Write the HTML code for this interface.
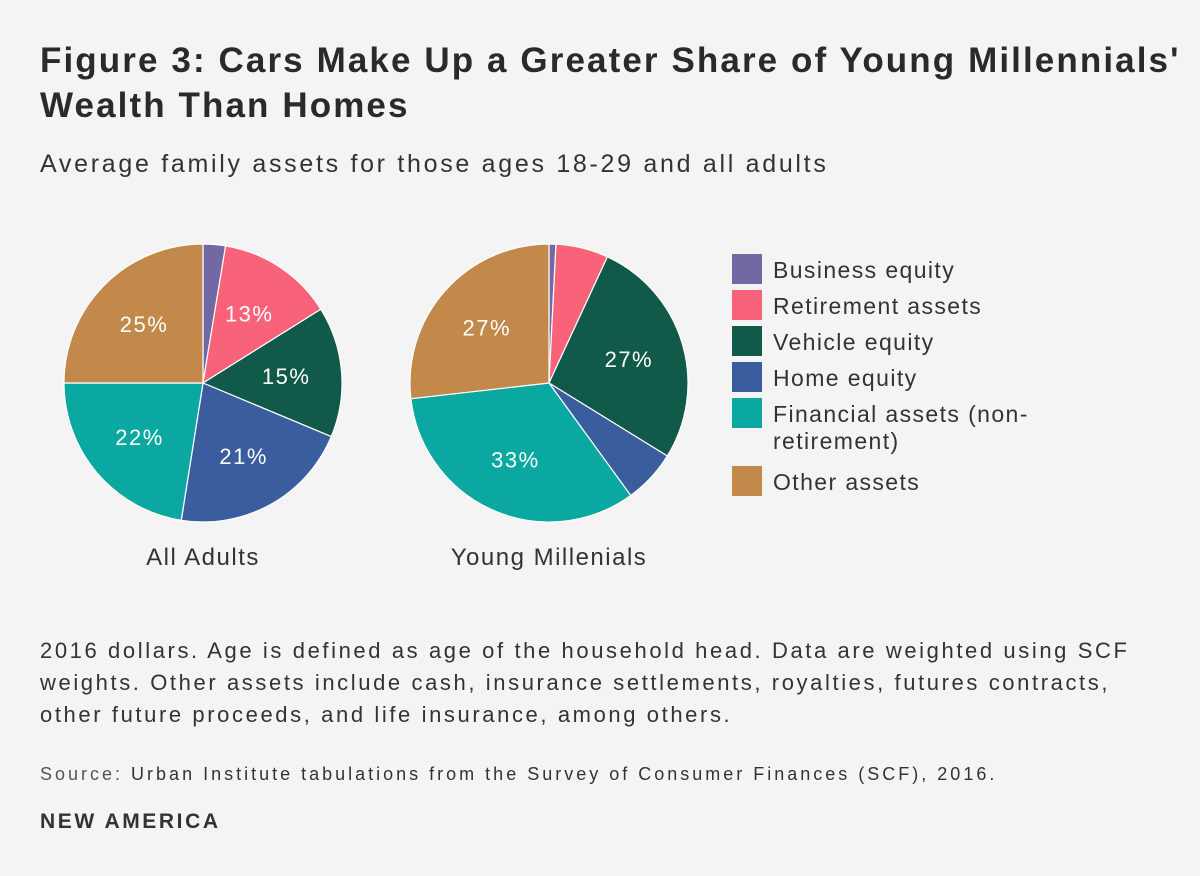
<!DOCTYPE html>
<html><head><meta charset="utf-8"><style>
body{margin:0;background:#f4f4f4;font-family:"Liberation Sans",sans-serif;color:#333;}
#wrap{position:relative;width:1200px;height:876px;overflow:hidden;}
.t{position:absolute;left:40px;white-space:nowrap;}
</style></head><body>
<div id="wrap">
<div class="t" style="top:38px;font-size:35px;font-weight:bold;line-height:45px;color:#2a2a2a;letter-spacing:2.1px">Figure 3: Cars Make Up a Greater Share of Young Millennials'<br>Wealth Than Homes</div>
<div class="t" style="top:150px;font-size:25px;letter-spacing:2.7px">Average family assets for those ages 18-29 and all adults</div>
<svg id="svg" width="1200" height="620" style="position:absolute;left:0;top:0"></svg>
<div class="t" style="top:635px;font-size:22px;line-height:32px;letter-spacing:2.6px">2016 dollars. Age is defined as age of the household head. Data are weighted using SCF<br>weights. Other assets include cash, insurance settlements, royalties, futures contracts,<br>other future proceeds, and life insurance, among others.</div>
<div class="t" style="top:764px;font-size:18px;letter-spacing:3px"><span style="color:#555">Source:</span> Urban Institute tabulations from the Survey of Consumer Finances (SCF), 2016.</div>
<div class="t" style="top:810px;font-size:21px;font-weight:bold;color:#333;letter-spacing:2.6px">NEW AMERICA</div>
</div>
<script>
const categories=["Business equity","Retirement assets","Vehicle equity","Home equity","Financial assets (non-retirement)","Other assets"];
const colors=["#7268a3","#f8637a","#115a4a","#3a5d9e","#0aa8a1","#c2894a"];
const allAdults=[2.6,13.5,15.2,21.2,22.5,25];
const youngMillennials=[0.8,6.1,26.9,6.2,33.2,26.8];
const allAdultsLabels=["","13%","15%","21%","22%","25%"];
const youngLabels=["","","27%","","33%","27%"];
const ns="http://www.w3.org/2000/svg";
const svg=document.getElementById('svg');
function mk(t,a){const e=document.createElementNS(ns,t);for(const k in a)e.setAttribute(k,a[k]);svg.appendChild(e);return e;}
function pie(vals,labels,cx,cy,r,title,key){
  const tot=vals.reduce((a,b)=>a+b,0);let acc=0;
  vals.forEach((v,i)=>{
    const a0=acc/tot*2*Math.PI;acc+=v;const a1=acc/tot*2*Math.PI;
    const x0=cx+r*Math.sin(a0),y0=cy-r*Math.cos(a0),x1=cx+r*Math.sin(a1),y1=cy-r*Math.cos(a1);
    const p=mk('path',{d:`M${cx},${cy}L${x0},${y0}A${r},${r} 0 ${a1-a0>Math.PI?1:0} 1 ${x1},${y1}Z`,fill:colors[i],stroke:'#fff','stroke-width':1.2});
    
    
    if(labels[i]){const am=(a0+a1)/2;
      const t=mk('text',{x:cx+0.6*r*Math.sin(am),y:cy-0.6*r*Math.cos(am)+8,'text-anchor':'middle','font-size':22,fill:'#fff','font-family':'Liberation Sans, sans-serif','letter-spacing':'1.5'});
      t.textContent=labels[i];
      
      }
  });
  const tt=mk('text',{x:cx,y:cy+182,'text-anchor':'middle','font-size':24,fill:'#333','font-family':'Liberation Sans, sans-serif','letter-spacing':'1.5'});
  tt.textContent=title;
  
  
}
pie(allAdults,allAdultsLabels,203,383,139,'All Adults','all-adults');
pie(youngMillennials,youngLabels,549,383,139,'Young Millenials','young-millennials');
const lab=["Business equity","Retirement assets","Vehicle equity","Home equity","Financial assets (non-","Other assets"];
const ys=[254,290,326,362,398,466];
categories.forEach((c,i)=>{
  const r=mk('rect',{x:732,y:ys[i],width:30,height:30,fill:colors[i]});
  
  
  const t=mk('text',{x:773,y:ys[i]+24,'font-size':23,fill:'#333','font-family':'Liberation Sans, sans-serif','letter-spacing':'1.4'});
  t.textContent=lab[i];
  
  
});
const t2=mk('text',{x:773,y:449,'font-size':23,fill:'#333','font-family':'Liberation Sans, sans-serif','letter-spacing':'1.4'});
t2.textContent="retirement)";


</script>
</body></html>
